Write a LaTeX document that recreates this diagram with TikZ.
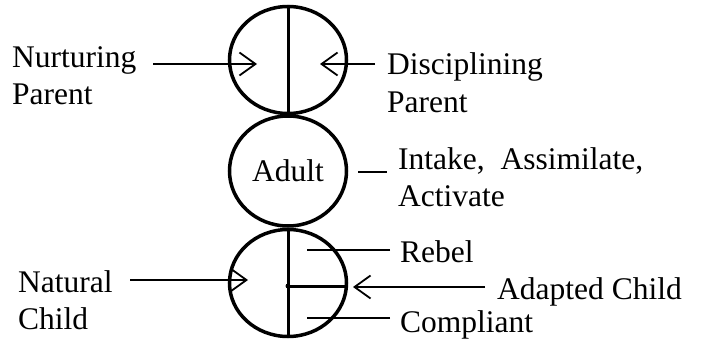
\documentclass[tikz,border=0pt]{standalone}
\usepackage{fontspec}
\setmainfont{Liberation Serif}
\usetikzlibrary{shapes.geometric,arrows.meta}
\begin{document}
\begin{tikzpicture}[x=1pt,y=-1pt,
  ego/.style={ellipse,draw,line width=3.5pt,minimum width=117pt,inner sep=0pt,font=\fontsize{31.5}{36}\selectfont},
  lbl/.style={font=\fontsize{31.5}{37}\selectfont,inner sep=0pt,anchor=base west,align=left},
  conn/.style={line width=1.8pt},
  thick line/.style={line width=3pt},
  arr/.style={conn,-{Straight Barb[length=16pt,width=23pt,line width=1.8pt]}}]
\useasboundingbox (0,0) rectangle (702,345);
% ego states
\node[ego,minimum height=107pt] (P) at (288,60) {};
\node[ego,minimum height=110pt] (A) at (288,171) {Adult};
\node[ego,minimum height=107pt] (C) at (288,283) {};
% dividing lines
\draw[thick line] (P.north) -- (P.south);
\draw[thick line] (C.north) -- (C.south);
\coordinate (Cmid) at (288,286);
\coordinate (Cedge) at (345,286);
\draw[thick line] (Cmid) -- (Cedge);
\fill (Cmid) circle (2.5pt);
% labels (base anchor = baseline of last line)
\node[lbl] (np) at (12,105) {Nurturing\\Parent};
\node[lbl] (dp) at (387,112) {Disciplining\\Parent};
\node[lbl] (iaa) at (398,206) {Intake, \ Assimilate,\\Activate};
\node[lbl] (nc) at (18,329) {Natural\\Child};
\node[lbl] (rb) at (400,262) {Rebel};
\node[lbl] (ac) at (497,299) {Adapted Child};
\node[lbl] (cp) at (400,332) {Compliant};
% connector ends
\coordinate (npS) at (153,64);
\coordinate (npE) at (257,64);
\coordinate (dpS) at (375,64);
\coordinate (dpE) at (320,64);
\coordinate (aS) at (358,172);
\coordinate (aE) at (387,172);
\coordinate (ncS) at (130,280);
\coordinate (ncE) at (248,280);
\coordinate (rbS) at (390,250);
\coordinate (rbE) at (307,250);
\coordinate (acS) at (485,287);
\coordinate (acE) at (353,287);
\coordinate (cpS) at (390,318);
\coordinate (cpE) at (307,318);
% connectors
\draw[arr] (npS) -- (npE);
\draw[arr] (dpS) -- (dpE);
\draw[conn,line width=2.2pt] (aS) -- (aE);
\draw[arr] (ncS) -- (ncE);
\draw[conn] (rbS) -- (rbE);
\draw[arr] (acS) -- (acE);
\draw[conn] (cpS) -- (cpE);
\end{tikzpicture}
\end{document}
